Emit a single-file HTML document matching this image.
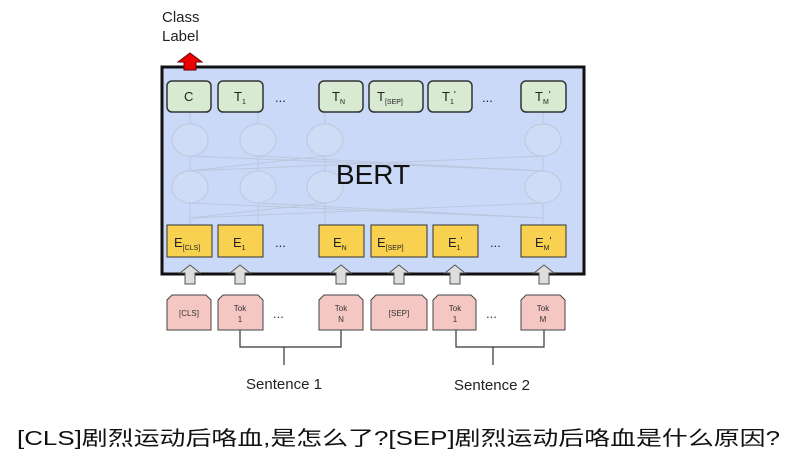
<!DOCTYPE html>
<html><head><meta charset="utf-8"><style>
body{margin:0;background:#fff;width:808px;height:459px;overflow:hidden}
</style></head><body>
<svg width="808" height="459" viewBox="0 0 808 459" xmlns="http://www.w3.org/2000/svg" font-family="Liberation Sans, sans-serif">
<text x="162" y="22" font-size="15" fill="#222">Class</text>
<text x="162" y="41" font-size="15" fill="#222">Label</text>
<rect x="162" y="67" width="422" height="207" fill="#c9d9f7" stroke="#111" stroke-width="3"/>
<polygon points="190,53 202,62 196,62 196,70 184,70 184,62 178,62" fill="#e00" stroke="#600" stroke-width="1"/>
<g fill="#cfdcf5" stroke="#bcc7dd" stroke-width="1">
<ellipse cx="190" cy="140" rx="18" ry="16"/><ellipse cx="258" cy="140" rx="18" ry="16"/><ellipse cx="325" cy="140" rx="18" ry="16"/><ellipse cx="543" cy="140" rx="18" ry="16"/>
<ellipse cx="190" cy="187" rx="18" ry="16"/><ellipse cx="258" cy="187" rx="18" ry="16"/><ellipse cx="325" cy="187" rx="18" ry="16"/><ellipse cx="543" cy="187" rx="18" ry="16"/>
</g>
<g fill="none" stroke="#bcc7dd" stroke-width="1">
<path d="M190 156L543 171M543 156L190 171M258 156L543 171M325 156L190 171M190 203L543 218M543 203L190 218M258 203L543 218M325 203L190 218M190 113V124M258 113V124M325 113V124M543 113V124M190 156V171M258 156V171M325 156V171M543 156V171M190 203V225M258 203V225M325 203V225M543 203V225"/>
</g>
<text x="373" y="184" font-size="28" text-anchor="middle" fill="#111">BERT</text>
<g fill="#d9ead3" stroke="#333" stroke-width="1.5">
<rect x="167" y="81" width="44" height="31" rx="5"/><rect x="218" y="81" width="45" height="31" rx="5"/>
<rect x="319" y="81" width="44" height="31" rx="5"/><rect x="369" y="81" width="54" height="31" rx="5"/>
<rect x="428" y="81" width="44" height="31" rx="5"/><rect x="521" y="81" width="45" height="31" rx="5"/>
</g>
<g font-size="13" fill="#222">
<text x="184" y="101">C</text>
<text x="234" y="101">T<tspan font-size="7" dy="3">1</tspan></text>
<text x="332" y="101">T<tspan font-size="7" dy="3">N</tspan></text>
<text x="377" y="101">T<tspan font-size="7" dy="3">[SEP]</tspan></text>
<text x="442" y="101">T<tspan font-size="7" dy="3">1</tspan><tspan dy="-6" font-size="10">'</tspan></text>
<text x="535" y="101">T<tspan font-size="7" dy="3">M</tspan><tspan dy="-6" font-size="10">'</tspan></text>
<text x="275" y="102">...</text><text x="482" y="102">...</text>
</g>
<g fill="#f7d14f" stroke="#333" stroke-width="1">
<rect x="167" y="225" width="45" height="32"/><rect x="218" y="225" width="45" height="32"/>
<rect x="319" y="225" width="45" height="32"/><rect x="371" y="225" width="56" height="32"/>
<rect x="433" y="225" width="45" height="32"/><rect x="521" y="225" width="45" height="32"/>
</g>
<g font-size="13" fill="#222">
<text x="174" y="247">E<tspan font-size="7" dy="3">[CLS]</tspan></text>
<text x="233" y="247">E<tspan font-size="7" dy="3">1</tspan></text>
<text x="333" y="247">E<tspan font-size="7" dy="3">N</tspan></text>
<text x="377" y="247">E<tspan font-size="7" dy="3">[SEP]</tspan></text>
<text x="448" y="247">E<tspan font-size="7" dy="3">1</tspan><tspan dy="-6" font-size="10">'</tspan></text>
<text x="535" y="247">E<tspan font-size="7" dy="3">M</tspan><tspan dy="-6" font-size="10">'</tspan></text>
<text x="275" y="247">...</text><text x="490" y="247">...</text>
</g>
<g fill="#ddd" stroke="#555" stroke-width="1">
<polygon points="190,265 200,273 195,273 195,284 185,284 185,273 180,273"/>
<polygon points="240,265 250,273 245,273 245,284 235,284 235,273 230,273"/>
<polygon points="341,265 351,273 346,273 346,284 336,284 336,273 331,273"/>
<polygon points="399,265 409,273 404,273 404,284 394,284 394,273 389,273"/>
<polygon points="455,265 465,273 460,273 460,284 450,284 450,273 445,273"/>
<polygon points="544,265 554,273 549,273 549,284 539,284 539,273 534,273"/>
</g>
<g fill="#f4c7c3" stroke="#444" stroke-width="1">
<path d="M167 330V300l5-5h34l5 5v30z"/><path d="M218 330V300l5-5h35l5 5v30z"/>
<path d="M319 330V300l5-5h34l5 5v30z"/><path d="M371 330V300l5-5h46l5 5v30z"/>
<path d="M433 330V300l5-5h33l5 5v30z"/><path d="M521 330V300l5-5h34l5 5v30z"/>
</g>
<g font-size="8" fill="#333" text-anchor="middle">
<text x="189" y="316">[CLS]</text>
<text x="240" y="311">Tok</text><text x="240" y="322">1</text>
<text x="341" y="311">Tok</text><text x="341" y="322">N</text>
<text x="399" y="316">[SEP]</text>
<text x="455" y="311">Tok</text><text x="455" y="322">1</text>
<text x="543" y="311">Tok</text><text x="543" y="322">M</text>
</g>
<g font-size="13" fill="#333"><text x="273" y="318">...</text><text x="486" y="318">...</text></g>
<g fill="none" stroke="#333" stroke-width="1.2">
<path d="M240 330V347H341V330M284 347V365"/>
<path d="M456 330V347H544V330M493 347V365"/>
</g>
<g font-size="15" fill="#222" text-anchor="middle">
<text x="284" y="389">Sentence 1</text><text x="492" y="390">Sentence 2</text>
</g>
<text x="17" y="445" font-size="20" textLength="763" lengthAdjust="spacingAndGlyphs" font-family="Liberation Sans Narrow, Liberation Sans, Noto Sans CJK SC, sans-serif" fill="#111">[CLS]剧烈运动后咯血,是怎么了?[SEP]剧烈运动后咯血是什么原因?</text>
</svg>
</body></html>
